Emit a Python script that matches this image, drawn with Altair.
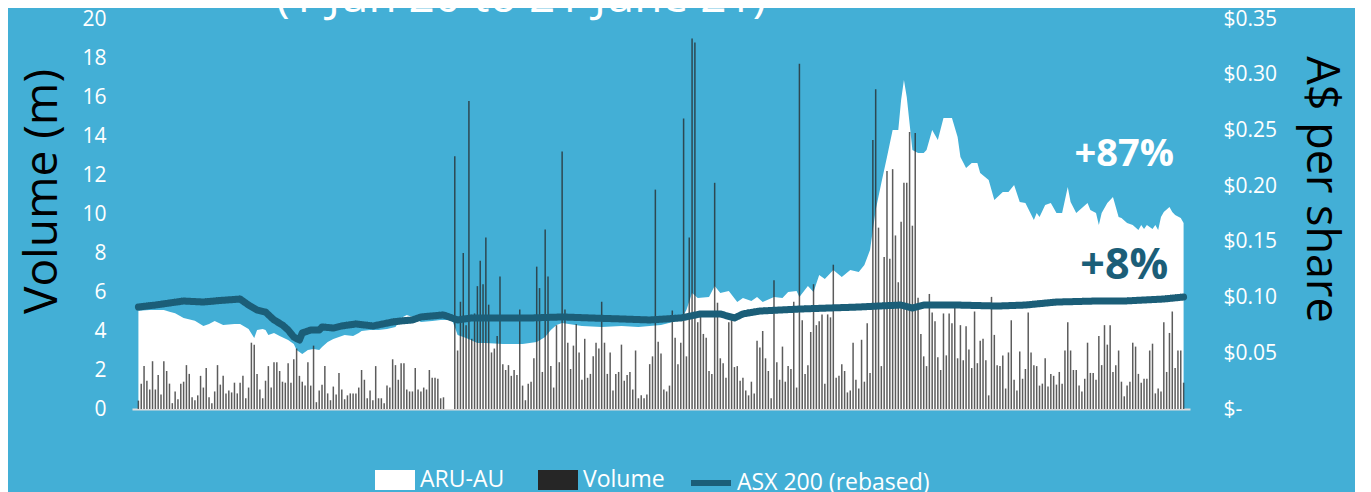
import altair as alt
import pandas as pd

# ---------------- data ----------------
N_DAYS = 371

vol_a = [0.43, 1.3, 2.2, 1.45, 1.0, 2.45, 1.0, 1.75, 0.75, 2.45,
         1.95, 1.3, 0.3, 0.9, 0.5, 1.3, 1.4, 2.25, 1.8, 0.6,
         0.45, 0.7, 1.7, 1.1, 2.1, 0.6, 0.3, 0.9, 2.25, 1.25,
         1.7, 0.8, 0.95, 0.85, 1.35, 0.8, 1.35, 1.7, 0.55, 1.1,
         3.4, 3.3, 1.8, 1.0, 0.55, 1.45, 2.2, 1.1, 2.4, 2.4,
         1.95, 1.4, 1.35, 2.35, 1.35, 2.55, 3.1, 1.7, 1.4, 1.2,
         2.4, 1.2, 3.25, 0.35, 0.95, 1.25, 2.2, 0.8, 0.45, 1.15,
         0.75, 1.85, 1.0, 0.5, 0.7, 0.8, 0.8, 0.8, 1.1, 2.0,
         1.5, 0.55, 0.95, 0.45, 2.2, 0.55, 0.55, 0.3, 1.2, 1.1,
         2.55, 2.25, 1.5, 2.35, 2.35, 1.0, 0.9, 0.9, 2.1, 1.0,
         0.9, 1.1, 1.0, 2.0, 1.6, 1.6, 1.55, 0.55, 0.6]
vol_gap = [0, 0, 0]
vol_b = [12.96, 3.0, 5.5, 8.0, 4.3, 15.8, 3.6, 4.9, 6.3, 7.6,
         6.4, 8.8, 5.35, 2.9, 3.1, 3.75, 6.8, 2.3, 2.0, 2.25,
         1.7, 2.0, 1.75, 5.1, 1.2, 0.45, 1.3, 1.4, 2.6, 7.3,
         6.2, 1.9, 9.2, 6.8, 2.2, 1.1, 4.3, 2.4, 13.2, 5.1,
         3.4, 2.05, 3.25, 4.35, 2.9, 1.5, 3.6, 1.6, 1.8, 2.7,
         3.4, 3.1, 5.5, 3.4, 1.8, 2.9, 0.95, 1.8, 1.9, 3.3,
         1.45, 1.75, 1.9, 1.0, 3.0, 0.55, 0.7, 0.55, 0.75, 2.3,
         2.7, 11.25, 3.45, 2.85, 1.0, 0.9, 1.2, 5.05, 3.65, 2.3,
         3.4, 14.9, 2.7, 8.8, 19.0, 18.8, 4.45, 5.0, 3.85, 3.65,
         1.95, 1.8, 11.6, 5.45, 2.6, 2.35, 1.6, 4.45, 4.6, 2.15,
         2.2]
vol_c = [1.45, 1.6, 0.95, 0.7, 1.4, 0.8, 3.5, 3.15, 4.0, 2.6,
         1.95, 0.55, 6.6, 2.4, 1.5, 3.2, 1.4, 2.2, 2.05, 5.5,
         1.1, 17.7, 4.55, 1.8, 2.25, 3.95, 6.4, 4.3, 4.5, 4.85,
         1.3, 4.85, 4.7, 7.4, 1.6, 1.7, 2.3, 1.95, 0.85, 0.95,
         3.4, 1.5, 1.05, 3.55, 1.4, 4.4, 1.85, 13.8, 16.4, 9.3,
         2.2, 7.8, 12.2, 7.7, 12.3, 8.9, 6.5, 9.6, 11.6, 11.6,
         14.2, 9.4, 14.15, 5.7, 3.85, 2.7, 2.2, 5.9, 4.95, 4.5,
         2.65, 2.0, 4.9, 2.75, 4.9, 4.4, 5.2, 2.6, 4.3, 2.5,
         4.25, 3.05, 2.1, 5.0, 2.35, 3.5, 3.6, 2.5, 0.7, 5.75,
         3.8, 2.25, 2.2, 2.75, 1.05, 2.9, 4.55, 1.5, 0.95, 2.95,
         1.55, 2.05, 4.95, 2.9, 2.25]
vol_d = [2.2, 1.2, 1.3, 2.6, 1.15, 1.8, 1.7, 1.25, 1.9, 1.3,
         3.0, 4.45, 3.0, 2.0, 2.0, 1.2, 0.9, 1.55, 3.4, 1.85,
         1.85, 1.5, 3.75, 2.25, 4.3, 3.3, 4.3, 1.9, 2.25, 3.0,
         1.4, 0.65, 1.2, 1.4, 3.4, 3.2, 1.8, 1.35, 1.55, 1.55,
         3.0, 3.35, 0.8, 1.05, 0.9, 4.45, 1.9, 3.9, 5.0, 2.1,
         3.0, 3.0, 1.35]

price_day = [0, 4, 9, 11, 13, 16, 20, 23, 25, 27, 30, 34, 36, 39, 41, 42, 44, 45, 46, 48,
             50, 53, 55, 56, 58, 60, 62, 64, 65, 67, 69, 71, 73, 76, 78, 79, 82, 85, 88, 91,
             93, 95, 97, 100, 104, 107, 111, 112, 113, 116, 120, 123, 129, 136, 141, 144, 146, 148, 150, 157,
             164, 171, 177, 185, 192, 194, 196, 198, 202, 204, 206, 209, 212, 214, 217, 219, 221, 225, 228, 230,
             233, 234, 237, 239, 241, 243, 246, 249, 252, 255, 257, 259, 261, 263, 265, 267, 269, 270, 271, 272,
             274, 276, 278, 279, 281, 283, 285, 288, 290, 291, 293, 295, 297, 298, 301, 303, 306, 308, 310, 312,
             314, 317, 318, 319, 321, 323, 325, 327, 329, 330, 332, 336, 337, 339, 340, 341, 343, 345, 347, 348,
             350, 352, 354, 355, 356, 357, 359, 360, 361, 362, 363, 365, 366, 367, 369, 370]
price_val = [0.0882, 0.0888, 0.0888, 0.0873, 0.0859, 0.0817, 0.0792, 0.0745, 0.0763, 0.0790,
             0.0754, 0.0763, 0.0763, 0.0718, 0.0637, 0.0709, 0.0718, 0.0709, 0.0664, 0.0682,
             0.0655, 0.0619, 0.0583, 0.0529, 0.0494, 0.0529, 0.0538, 0.0529, 0.0556, 0.0601,
             0.0628, 0.0646, 0.0664, 0.0655, 0.0682, 0.0700, 0.0709, 0.0709, 0.0718, 0.0736,
             0.0817, 0.0844, 0.0826, 0.0781, 0.0790, 0.0799, 0.0799, 0.0736, 0.0664, 0.0637,
             0.0592, 0.0592, 0.0583, 0.0583, 0.0601, 0.0646, 0.0709, 0.0754, 0.0772, 0.0745,
             0.0736, 0.0745, 0.0736, 0.0754, 0.0799, 0.0888, 0.1041, 0.0996, 0.1005, 0.1104,
             0.1041, 0.1059, 0.0960, 0.0996, 0.0969, 0.1005, 0.0960, 0.1005, 0.0996, 0.1050,
             0.1059, 0.1005, 0.1104, 0.1050, 0.1203, 0.1167, 0.1247, 0.1185, 0.1247, 0.1229,
             0.1292, 0.1427, 0.1786, 0.2028, 0.2261, 0.2504, 0.2504, 0.2773, 0.2952, 0.2800,
             0.2324, 0.2297, 0.2297, 0.2324, 0.2504, 0.2414, 0.2611, 0.2611, 0.2441, 0.2261,
             0.2163, 0.2208, 0.2208, 0.2118, 0.2055, 0.1876, 0.1947, 0.1947, 0.2010, 0.1858,
             0.1849, 0.1696, 0.1759, 0.1723, 0.1831, 0.1849, 0.1759, 0.1759, 0.1992, 0.1858,
             0.1759, 0.1849, 0.1786, 0.1759, 0.1651, 0.1759, 0.1849, 0.1902, 0.1723, 0.1714,
             0.1669, 0.1651, 0.1606, 0.1651, 0.1615, 0.1651, 0.1615, 0.1651, 0.1606, 0.1723,
             0.1768, 0.1813, 0.1768, 0.1741, 0.1714, 0.1669]

asx_day = [0, 6, 11, 16, 23, 29, 34, 36, 39, 42, 45, 48, 51, 53, 55, 57, 58, 61, 64, 65,
           69, 72, 77, 83, 90, 93, 97, 100, 104, 108, 110, 113, 118, 129, 139, 150, 160, 171, 181, 192,
           199, 206, 211, 214, 220, 227, 234, 244, 255, 262, 270, 274, 278, 290, 304, 314, 325, 339, 349, 356,
           363, 370]
asx_val = [0.0915, 0.0933, 0.0951, 0.0969, 0.0960, 0.0974, 0.0983, 0.0987, 0.0933, 0.0888,
           0.0870, 0.0799, 0.0754, 0.0709, 0.0646, 0.0619, 0.0682, 0.0709, 0.0709, 0.0736,
           0.0727, 0.0745, 0.0763, 0.0745, 0.0781, 0.0790, 0.0799, 0.0826, 0.0835, 0.0844,
           0.0826, 0.0799, 0.0817, 0.0817, 0.0817, 0.0826, 0.0817, 0.0808, 0.0799, 0.0817,
           0.0853, 0.0853, 0.0817, 0.0853, 0.0879, 0.0888, 0.0897, 0.0906, 0.0915, 0.0924,
           0.0933, 0.0906, 0.0933, 0.0933, 0.0924, 0.0933, 0.0960, 0.0969, 0.0969, 0.0978,
           0.0987, 0.1005]

fill_names = ["ARU-AU", "Volume"]
fill_colors = ["#FFFFFF", "#262626"]
line_name = "ASX 200 (rebased)"
line_color = "#1B5E78"

ann_day = [349, 349]
ann_val = [0.228, 0.128]
ann_text = ["+87%", "+8%"]

title_text = "(1 Jun 20 to 21 June 21)"

# ---------------- build tables ----------------
volume = vol_a + vol_gap + vol_b + vol_c + vol_d
vol_df = pd.DataFrame({"day": list(range(len(volume))), "volume": volume, "series": "Volume"})
price_df = pd.DataFrame({"day": price_day, "price": price_val, "series": "ARU-AU"})
asx_df = pd.DataFrame({"day": asx_day, "asx": asx_val, "series": line_name})
ann_df = pd.DataFrame({"day": ann_day, "value": ann_val, "label": ann_text})

FONT = "Open Sans"
BG = "#43AFD6"

x_scale = alt.Scale(domain=[-0.5, N_DAYS - 0.5], nice=False, zero=False)
x_axis = alt.Axis(title=None, labels=False, ticks=False, grid=False,
                  domain=True, domainColor="#DDDDDD", domainWidth=2)


def xenc():
    return alt.X("day:Q", scale=x_scale, axis=x_axis)


price_scale = alt.Scale(domain=[0, 0.35], nice=False, zero=True)
color_scale = alt.Scale(domain=fill_names, range=fill_colors)
dash_scale = alt.Scale(domain=[line_name], range=[[1, 0]])

rect_path = "M-1,-0.5L1,-0.5L1,0.5L-1,0.5Z"
fill_legend = alt.Legend(
    title=None, orient="none", direction="horizontal",
    legendX=243, legendY=441, padding=0,
    labelFont=FONT, labelFontSize=23, labelColor="white", labelOffset=5,
    columnPadding=33, symbolSize=1600, symbolType=rect_path,
    symbolStrokeWidth=0, symbolOpacity=1, labelLimit=300,
)
line_legend = alt.Legend(
    title=None, orient="none", direction="horizontal",
    legendX=556, legendY=441, padding=0,
    labelFont=FONT, labelFontSize=23, labelColor="white", labelOffset=3,
    symbolSize=1600, symbolType="stroke", symbolStrokeColor=line_color,
    symbolStrokeWidth=6, symbolOpacity=1, labelLimit=300,
)

area = alt.Chart(price_df).mark_area(opacity=1, interpolate="linear").encode(
    x=xenc(),
    y=alt.Y("price:Q", scale=price_scale,
            axis=alt.Axis(orient="right", values=[0, 0.05, 0.10, 0.15, 0.20, 0.25, 0.30, 0.35],
                          labelExpr="datum.value == 0 ? '$-' : '$' + format(datum.value, '.2f')",
                          labelFont=FONT, labelFontSize=21, labelColor="white",
                          labelAlign="left", labelPadding=33,
                          ticks=False, domain=False, grid=False,
                          title="A$ per share", titleFont=FONT, titleFontSize=45,
                          titleFontWeight="normal", titleColor="black",
                          titleAngle=90, titleX=130, titleY=170,
                          titleAlign="center", titleBaseline="middle")),
    color=alt.Color("series:N", scale=color_scale, legend=fill_legend),
)

bars = alt.Chart(vol_df).mark_bar(size=1.5, opacity=0.75).encode(
    x=xenc(),
    y=alt.Y("volume:Q", scale=alt.Scale(domain=[0, 20], nice=False),
            axis=alt.Axis(orient="left", values=list(range(0, 21, 2)),
                          labelFont=FONT, labelFontSize=21, labelColor="white",
                          labelPadding=26, ticks=False, domain=False, grid=False,
                          title="Volume (m)", titleFont=FONT, titleFontSize=46,
                          titleFontWeight="normal", titleColor="black",
                          titleAngle=-90, titleX=-90, titleY=172,
                          titleAlign="center", titleBaseline="middle")),
    color=alt.Color("series:N", scale=color_scale, legend=fill_legend),
)

line = alt.Chart(asx_df).mark_line(strokeWidth=7, strokeCap="round", strokeJoin="round",
                                   color=line_color).encode(
    x=xenc(),
    y=alt.Y("asx:Q", scale=price_scale, axis=None),
    strokeDash=alt.StrokeDash("series:N", scale=dash_scale, legend=line_legend),
)

t87 = alt.Chart(ann_df).transform_filter(alt.datum.label == "+87%").mark_text(
    font=FONT, fontSize=38, fontWeight="bold", color="white", align="center", baseline="middle"
).encode(x=xenc(), y=alt.Y("value:Q", scale=price_scale, axis=None), text="label:N")

t8 = alt.Chart(ann_df).transform_filter(alt.datum.label == "+8%").mark_text(
    font=FONT, fontSize=43, fontWeight="bold", color=line_color, align="center", baseline="middle"
).encode(x=xenc(), y=alt.Y("value:Q", scale=price_scale, axis=None), text="label:N")

chart = alt.layer(area, bars, line, t87, t8).resolve_scale(y="independent").properties(
    width=1058, height=390,
    background=BG,
    padding={"left": 124, "top": 11, "right": 165, "bottom": 83},
    autosize=alt.AutoSizeParams(type="none"),
    title=alt.TitleParams(title_text, font=FONT, fontSize=46, fontWeight="normal",
                          color="white", anchor="start", frame="group", dx=144,
                          offset=0, dy=50, baseline="alphabetic"),
).configure_view(stroke=None)

chart.save("out.html", embed_options={"renderer": "svg", "actions": False})
